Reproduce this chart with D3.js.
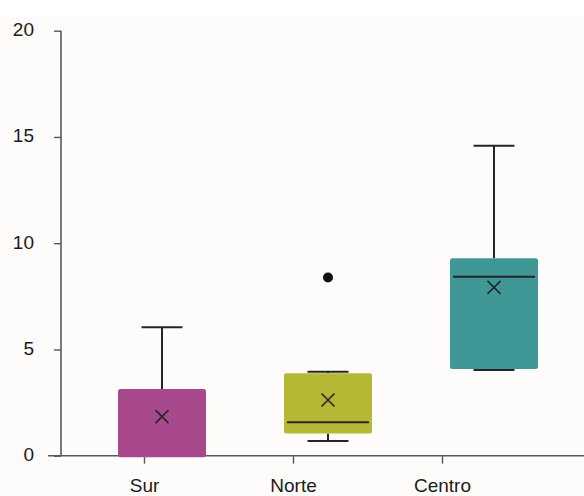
<!DOCTYPE html>
<html>
<head>
<meta charset="utf-8">
<script src="https://cdn.jsdelivr.net/npm/d3@7"></script>
<style>
  html, body { margin: 0; padding: 0; background: #ffffff; }
  svg { display: block; }
  text { font-family: "Liberation Sans", Arial, sans-serif; fill: #1a1a1a; }
</style>
</head>
<body>
<svg id="chart" width="584" height="496"></svg>
<script>
// ---- data ----
const categories = ["Sur", "Norte", "Centro"];
const colors     = ["#a8498e", "#b5b834", "#409896"];
const whiskerLow  = [0.0, 0.69, 4.03];
const q1          = [0.0, 1.05, 4.08];
const median      = [0.0, 1.57, 8.42];
const q3          = [3.14, 3.88, 9.29];
const whiskerHigh = [6.04, 3.95, 14.59];
const means       = [1.84, 2.62, 7.92];
const outliers    = [[], [8.39], []];
const yTicks      = [0, 5, 10, 15, 20];

// ---- layout ----
const W = 584, H = 496;
const svg = d3.select("#chart");

svg.append("rect").attr("x", 0).attr("y", 17).attr("width", W).attr("height", H - 17)
  .attr("fill", "#fdfcfa");

const y = d3.scaleLinear().domain([0, 20]).range([455.7, 30.7]);
// category tick positions (axis) and box positions
const xTick = d3.scalePoint().domain(categories).range([144, 442]);
const xBox  = d3.scalePoint().domain(categories).range([162, 494]);
const boxW = 88, capW = 41;

// y axis
const yAxis = d3.axisLeft(y).tickValues(yTicks).tickSize(7).tickPadding(20).tickFormat(d3.format("d"));
const gy = svg.append("g").attr("transform", "translate(61,0)").call(yAxis);
gy.select(".domain").attr("stroke", "#595959").attr("stroke-width", 1.6);
gy.selectAll(".tick line").attr("stroke", "#595959").attr("stroke-width", 1.4);
gy.selectAll(".tick text").attr("font-size", 19).attr("fill", "#1a1a1a")
  .attr("font-family", "'Liberation Sans', Arial, sans-serif").attr("x", -27).attr("dy", "0.26em");
gy.select(".domain").attr("d", "M0," + y(20) + "V" + y(0));

// x axis
svg.append("line").attr("x1", 48).attr("x2", W).attr("y1", y(0)).attr("y2", y(0))
  .attr("stroke", "#595959").attr("stroke-width", 1.6);
const gx = svg.append("g").attr("transform", `translate(0,${y(0)})`)
  .call(d3.axisBottom(xTick).tickSize(8).tickPadding(15));
gx.select(".domain").remove();
gx.selectAll(".tick line").attr("stroke", "#595959").attr("stroke-width", 1.4);
gx.selectAll(".tick text").attr("font-size", 19).attr("fill", "#1a1a1a")
  .attr("font-family", "'Liberation Sans', Arial, sans-serif");

// boxes
const data = categories.map((c, i) => ({
  c, color: colors[i], lo: whiskerLow[i], q1: q1[i], med: median[i], q3: q3[i],
  hi: whiskerHigh[i], mean: means[i], out: outliers[i]
}));

const line = "#262626";
const g = svg.append("g");
data.forEach(d => {
  const cx = xBox(d.c);
  const gg = g.append("g");
  // whiskers
  gg.append("line").attr("x1", cx).attr("x2", cx).attr("y1", y(d.q3)).attr("y2", y(d.hi))
    .attr("stroke", line).attr("stroke-width", 2);
  gg.append("line").attr("x1", cx - capW / 2).attr("x2", cx + capW / 2).attr("y1", y(d.hi)).attr("y2", y(d.hi))
    .attr("stroke", line).attr("stroke-width", 2);
  if (d.lo < d.q1) {
    gg.append("line").attr("x1", cx).attr("x2", cx).attr("y1", y(d.q1)).attr("y2", y(d.lo))
      .attr("stroke", line).attr("stroke-width", 2);
  }
  if (d.lo > 0) {
    gg.append("line").attr("x1", cx - capW / 2).attr("x2", cx + capW / 2).attr("y1", y(d.lo)).attr("y2", y(d.lo))
      .attr("stroke", line).attr("stroke-width", 2);
  }
  // box
  gg.append("rect").attr("x", cx - boxW / 2).attr("width", boxW)
    .attr("y", y(d.q3)).attr("height", Math.max(1, y(d.q1) - y(d.q3) + (d.q1 === 0 ? 1.5 : 0)))
    .attr("rx", 2.5).attr("fill", d.color);
  // median
  if (d.med > 0) {
    gg.append("line").attr("x1", cx - boxW / 2 + 3).attr("x2", cx + boxW / 2 - 3)
      .attr("y1", y(d.med)).attr("y2", y(d.med)).attr("stroke", line).attr("stroke-width", 2);
  }
  // mean X
  const m = 6.5, my = y(d.mean);
  gg.append("path").attr("d", `M${cx - m},${my - m}L${cx + m},${my + m}M${cx - m},${my + m}L${cx + m},${my - m}`)
    .attr("stroke", line).attr("stroke-width", 1.6).attr("fill", "none");
  // outliers
  d.out.forEach(v => {
    gg.append("circle").attr("cx", cx).attr("cy", y(v)).attr("r", 5).attr("fill", "#111");
  });
});
</script>
</body>
</html>
